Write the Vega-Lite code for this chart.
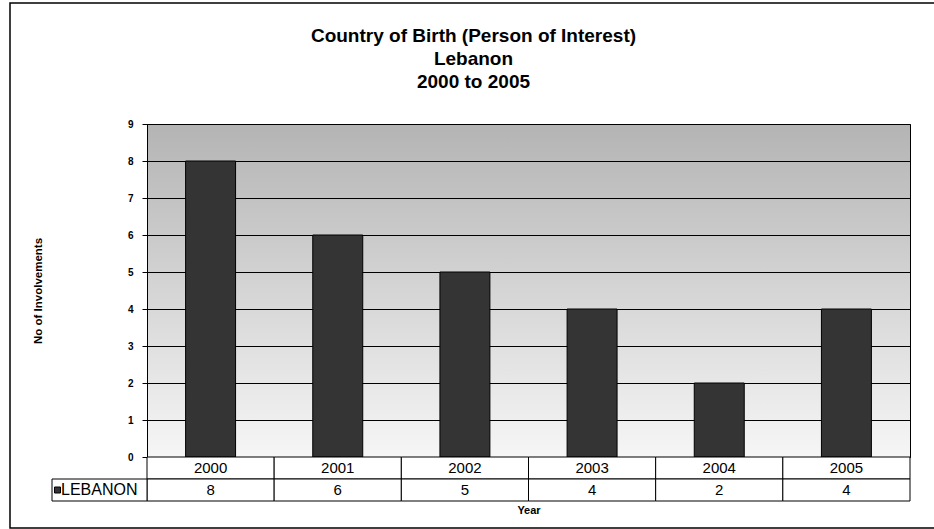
{
  "$schema": "https://vega.github.io/schema/vega-lite/v6.json",
  "width": 763,
  "height": 333,
  "autosize": {"type": "none"},
  "padding": {"left": 147, "top": 124, "right": 24, "bottom": 72},
  "background": "white",
  "title": {
    "text": ["Country of Birth (Person of Interest)", "Lebanon", "2000 to 2005"],
    "font": "Liberation Sans",
    "fontSize": 19,
    "fontWeight": "bold",
    "lineHeight": 23,
    "color": "black",
    "anchor": "middle",
    "frame": "group",
    "dx": -55,
    "offset": -90
  },
  "data": {
    "values": [
      {"Year": "2000", "Country": "LEBANON", "Involvements": 8},
      {"Year": "2001", "Country": "LEBANON", "Involvements": 6},
      {"Year": "2002", "Country": "LEBANON", "Involvements": 5},
      {"Year": "2003", "Country": "LEBANON", "Involvements": 4},
      {"Year": "2004", "Country": "LEBANON", "Involvements": 2},
      {"Year": "2005", "Country": "LEBANON", "Involvements": 4}
    ]
  },
  "layer": [
    {
      "mark": {"type": "bar", "fill": "#343434", "stroke": "black", "strokeWidth": 1},
      "encoding": {
        "x": {
          "field": "Year",
          "type": "ordinal",
          "scale": {"paddingInner": 0.607, "paddingOuter": 0.3035},
          "axis": null
        },
        "y": {
          "field": "Involvements",
          "type": "quantitative",
          "scale": {"domain": [0, 9], "nice": false},
          "axis": {
            "title": "No of Involvements",
            "tickCount": 9,
            "grid": true,
            "gridColor": "black",
            "gridOpacity": 1,
            "gridWidth": 1,
            "domainColor": "black",
            "tickColor": "black",
            "tickSize": 5,
            "labelFont": "Liberation Sans",
            "labelFontSize": 10,
            "labelFontWeight": "bold",
            "labelColor": "black",
            "labelPadding": 9,
            "titleFont": "Liberation Sans",
            "titleFontSize": 11.5,
            "titleFontWeight": "bold",
            "titleColor": "black",
            "titlePadding": 84
          }
        }
      }
    },
    {
      "encoding": {
        "x": {
          "field": "Year",
          "type": "ordinal",
          "scale": {"paddingInner": 0, "paddingOuter": 0},
          "axis": {
            "title": "Year",
            "orient": "bottom",
            "offset": 44,
            "labels": false,
            "ticks": false,
            "domain": false,
            "grid": false,
            "titleFont": "Liberation Sans",
            "titleFontSize": 11,
            "titleFontWeight": "bold",
            "titleColor": "black",
            "titlePadding": 3
          }
        }
      },
      "layer": [
        {
          "mark": {"type": "rect", "fill": "white", "stroke": "black", "strokeWidth": 1},
          "encoding": {
            "y": {"datum": "Year", "type": "nominal", "scale": {"domain": ["Year", "LEBANON"], "range": [333, 377], "paddingInner": 0, "paddingOuter": 0}, "axis": null}
          }
        },
        {
          "mark": {"type": "text", "font": "Liberation Sans", "fontSize": 15, "color": "black", "baseline": "middle"},
          "encoding": {
            "y": {"datum": "Year", "type": "nominal", "scale": {"domain": ["Year", "LEBANON"], "range": [333, 377], "paddingInner": 0, "paddingOuter": 0}, "axis": null},
            "text": {"field": "Year"}
          }
        },
        {
          "mark": {"type": "rect", "fill": "white", "stroke": "black", "strokeWidth": 1},
          "encoding": {
            "y": {"datum": "LEBANON", "type": "nominal", "scale": {"domain": ["Year", "LEBANON"], "range": [333, 377], "paddingInner": 0, "paddingOuter": 0}, "axis": null}
          }
        },
        {
          "mark": {"type": "text", "font": "Liberation Sans", "fontSize": 15, "color": "black", "baseline": "middle"},
          "encoding": {
            "y": {"datum": "LEBANON", "type": "nominal", "scale": {"domain": ["Year", "LEBANON"], "range": [333, 377], "paddingInner": 0, "paddingOuter": 0}, "axis": null},
            "text": {"field": "Involvements"}
          }
        }
      ]
    },
    {
      "transform": [{"aggregate": [], "groupby": ["Country"]}],
      "encoding": {
        "y": {"datum": "LEBANON", "type": "nominal", "scale": {"domain": ["Year", "LEBANON"], "range": [333, 377], "paddingInner": 0, "paddingOuter": 0}, "axis": null}
      },
      "layer": [
        {
          "mark": {"type": "rect", "fill": "white", "stroke": "black", "strokeWidth": 1},
          "encoding": {
            "x": {"field": "Country", "type": "nominal", "scale": {"range": [-95, 0], "paddingInner": 0, "paddingOuter": 0}, "axis": null}
          }
        },
        {
          "mark": {"type": "text", "font": "Liberation Sans", "fontSize": 16, "color": "black", "align": "left", "baseline": "middle", "dx": 9},
          "encoding": {
            "x": {"field": "Country", "type": "nominal", "bandPosition": 0, "scale": {"range": [-95, 0], "paddingInner": 0, "paddingOuter": 0}, "axis": null},
            "text": {"field": "Country"}
          }
        },
        {
          "mark": {"type": "point", "shape": "square", "filled": true, "size": 36, "fill": "#343434", "stroke": "black", "strokeWidth": 1, "opacity": 1},
          "encoding": {
            "x": {"field": "Country", "type": "nominal", "bandPosition": 0.058, "scale": {"range": [-95, 0], "paddingInner": 0, "paddingOuter": 0}, "axis": null}
          }
        }
      ]
    },
    {
      "data": {"values": [{"part": "chart frame"}]},
      "mark": {"type": "rect", "filled": false, "stroke": "black", "strokeWidth": 1.5},
      "encoding": {
        "x": {"datum": 0, "type": "quantitative", "scale": {"domain": [0, 1], "range": [-137, 800], "nice": false, "zero": false}, "axis": null},
        "x2": {"datum": 1},
        "y": {"datum": 0, "type": "quantitative", "scale": {"domain": [0, 1], "range": [-121, 404], "nice": false, "zero": false}, "axis": null},
        "y2": {"datum": 1}
      }
    }
  ],
  "resolve": {
    "scale": {"x": "independent", "y": "independent"},
    "axis": {"x": "independent", "y": "independent"}
  },
  "config": {
    "font": "Liberation Sans",
    "view": {
      "stroke": "black",
      "strokeWidth": 1,
      "fill": {
        "gradient": "linear",
        "x1": 0, "y1": 0, "x2": 0, "y2": 1,
        "stops": [
          {"offset": 0, "color": "#b4b4b4"},
          {"offset": 1, "color": "#f6f6f6"}
        ]
      }
    }
  }
}
